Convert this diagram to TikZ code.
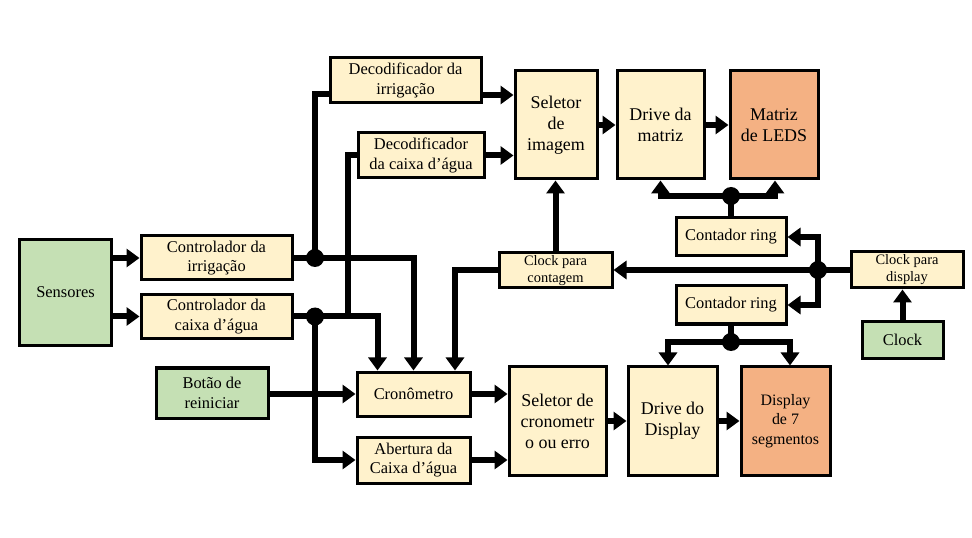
\documentclass[tikz,border=0pt]{standalone}
\usepackage{fontspec}
\setmainfont{Liberation Serif}
\usetikzlibrary{arrows.meta}
\definecolor{cream}{HTML}{FFF2CC}
\definecolor{leaf}{HTML}{C5E0B4}
\definecolor{peach}{HTML}{F4B183}
\tikzset{
  box/.style={draw=black, line width=3bp, fill=cream, inner sep=1bp, align=center, font=\fontsize{16.5}{19.5}\selectfont},
  bigbox/.style={box, font=\fontsize{18}{21}\selectfont},
  smallbox/.style={box, font=\fontsize{14.5}{17}\selectfont},
  green/.style={fill=leaf},
  orange/.style={fill=peach},
  sz/.style 2 args={minimum width=#1bp, minimum height=#2bp},
  ln/.style={line width=6bp},
  arr/.style={ln, -{Triangle[length=13bp,width=18bp]}},
  dot/.style={circle, fill=black, inner sep=0pt, minimum size=18bp}
}
\begin{document}
\begin{tikzpicture}[x=1bp, y=-1bp]
\useasboundingbox (0,0) rectangle (972,538);
% nodes
\node[box, green, sz={91}{105}] (sens) at (65.5,292.5) {Sensores};
\node[box, sz={151}{44}] (ci) at (216.5,258) {Controlador da\\irrigação};
\node[box, sz={151}{43}] (cc) at (216.5,316.5) {Controlador da\\caixa d’água};
\node[box, sz={151}{45}] (di) at (405.5,80.5) {Decodificador da\\irrigação};
\node[box, sz={126}{45}] (dc) at (421,155.5) {Decodificador\\da caixa d’água};
\node[bigbox, sz={82}{108}] (si) at (556,125) {Seletor\\de\\imagem};
\node[bigbox, sz={87}{108}] (dm) at (660.5,125) {Drive da\\matriz};
\node[bigbox, orange, sz={88}{108}] (ml) at (774,125) {Matriz\\de LEDS};
\node[box, sz={110}{38}] (cr1) at (731,237) {Contador ring};
\node[smallbox, sz={113}{35}] (cpc) at (555.5,270.5) {Clock para\\contagem};
\node[smallbox, sz={112}{36}] (cpd) at (907,270) {Clock para\\display};
\node[box, sz={110}{38}] (cr2) at (731,305) {Contador ring};
\node[box, green, sz={81}{36}] (clk) at (902.5,340) {Clock};
\node[box, green, sz={112}{50}] (bot) at (212,393) {Botão de\\reiniciar};
\node[box, sz={113}{44}] (cro) at (413.5,394) {Cronômetro};
\node[box, sz={113}{46}] (ab) at (413.5,460) {Abertura da\\Caixa d’água};
\node[bigbox, sz={97}{108}] (sc) at (557.5,421) {Seletor de\\cronometr\\o ou erro};
\node[bigbox, sz={89}{108}] (dd) at (672.5,421) {Drive do\\Display};
\node[box, orange, sz={89}{108}, font=\fontsize{16}{19.5}\selectfont] (d7) at (785.5,421) {Display\\de 7\\segmentos};
% junctions
\coordinate (j1) at (315,258);
\coordinate (j2) at (315,316.5);
\coordinate (b1) at (348,316.5);
\coordinate (j3) at (731,196);
\coordinate (j4) at (818,270);
\coordinate (j5) at (731,342);
% connectors
\draw[arr] (sens.east |- ci) -- (ci.west);
\draw[arr] (sens.east |- cc) -- (cc.west);
\draw[ln] (ci.east) -- (j1);
\draw[ln] (j1) |- ([yshift=-13.5bp]di.west);
\draw[arr] (j1) -| (cro.north);
\draw[ln] (cc.east) -- (j2);
\draw[arr] (j2) -| ([xshift=-36bp]cro.north);
\draw[ln] (b1) |- (dc.west);
\draw[arr] (j2) |- (ab.west);
\draw[arr] (bot.east |- cro) -- (cro.west);
\draw[arr] ([yshift=-14.5bp]di.east) coordinate (t1) -- (t1 -| si.west);
\draw[arr] (dc.east) -- (dc.east -| si.west);
\draw[arr] (si.east) -- (dm.west);
\draw[arr] (dm.east) -- (ml.west);
\draw[ln] (cr1.north) -- (j3);
\draw[arr] (j3) -| (dm.south);
\draw[arr] (j3) -| ([xshift=1bp]ml.south);
\draw[ln] (cpd.west) -- (j4);
\draw[arr] (j4) -- (j4 -| cpc.east);
\draw[arr] (j4) |- (cr1.east);
\draw[arr] (j4) |- (cr2.east);
\draw[arr] (clk.north) -- (clk.north |- cpd.south);
\draw[arr] (cpc.west) -| ([xshift=41.5bp]cro.north);
\draw[arr] (cpc.north) -- (cpc.north |- si.south);
\draw[ln] (cr2.south) -- (j5);
\draw[arr] (j5) -| ([xshift=-4.5bp]dd.north);
\draw[arr] (j5) -| ([xshift=4.5bp]d7.north);
\draw[arr] (cro.east) -- (cro.east -| sc.west);
\draw[arr] (ab.east) -- (ab.east -| sc.west);
\draw[arr] (sc.east) -- (dd.west);
\draw[arr] (dd.east) -- (d7.west);
% dots
\foreach \j in {j1,j2,j3,j4,j5} \node[dot] at (\j) {};
\end{tikzpicture}
\end{document}
